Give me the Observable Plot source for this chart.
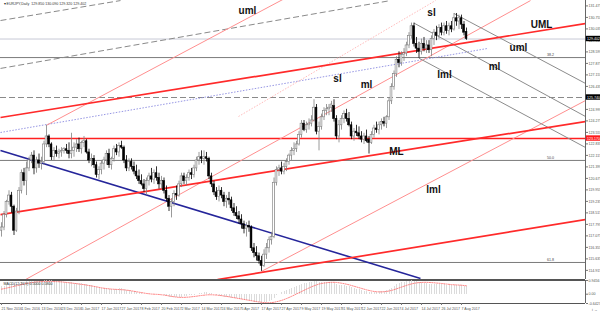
<!DOCTYPE html>
<html><head><meta charset="utf-8">
<script src="https://cdn.jsdelivr.net/npm/d3@7"></script>
<script src="https://cdn.jsdelivr.net/npm/@observablehq/plot@0.6"></script>
<style>
body{margin:0;background:#fff}
#wrap{position:relative;width:600px;height:313px;overflow:hidden;background:#fff}
#wrap svg{position:absolute;left:0}
</style></head><body><div id="wrap"></div>
<script>
// ---------- data ----------
const symbol = "EURJPY,Daily";
const dateLabels = ["21 Nov 2016","1 Dec 2016","13 Dec 2016","23 Dec 2016","5 Jan 2017","17 Jan 2017","27 Jan 2017","8 Feb 2017","20 Feb 2017","2 Mar 2017","14 Mar 2017","24 Mar 2017","5 Apr 2017","17 Apr 2017","27 Apr 2017","9 May 2017","19 May 2017","31 May 2017","12 Jun 2017","22 Jun 2017","4 Jul 2017","14 Jul 2017","26 Jul 2017","7 Aug 2017"];
const barsPerLabel = 8;
const open = [117.4,117.6,118.4,119.2,119.6,118.9,117.4,118.6,119.9,121.0,120.5,121.3,121.8,122.1,121.3,121.8,121.6,121.7,122.8,123.3,122.8,122.0,122.4,122.2,122.3,122.4,122.5,122.4,122.2,122.4,122.6,122.8,122.5,122.9,123.0,122.3,121.8,121.9,121.5,120.9,121.2,121.6,121.8,122.2,121.5,121.9,122.5,122.3,122.7,122.6,121.8,121.3,121.7,121.4,121.1,120.8,120.5,120.3,120.0,120.5,120.8,120.6,121.0,120.7,120.3,120.5,119.9,119.4,118.9,119.2,119.7,119.6,120.3,120.8,120.5,120.7,121.0,120.9,121.3,121.8,122.0,121.9,122.0,121.9,120.8,120.3,119.8,119.5,119.9,119.6,119.2,119.4,119.3,118.8,118.5,118.3,118.1,117.8,117.5,117.7,117.6,116.3,116.0,115.8,115.5,115.2,115.9,116.3,116.8,117.0,120.4,121.2,121.3,121.1,121.4,121.7,122.1,122.4,122.5,122.8,123.4,124.1,123.7,124.0,124.1,124.3,125.1,123.6,123.9,124.5,124.9,125.0,125.1,125.2,124.4,123.3,124.0,124.4,124.7,124.4,124.0,123.3,123.6,123.5,123.3,123.1,123.3,123.1,122.9,123.4,123.8,123.7,124.0,124.2,124.1,124.5,125.5,126.4,127.2,128.1,127.9,128.4,128.5,129.0,129.6,130.2,129.1,128.8,128.6,129.1,128.8,129.0,128.7,129.4,129.8,129.6,130.1,129.8,130.2,129.9,130.2,130.0,130.7,130.5,130.7,130.3,129.85];
const high = [117.9,118.6,119.3,119.9,119.8,119.0,118.8,120.1,121.2,121.3,121.7,122.0,122.3,122.4,122.0,122.2,122.0,123.0,124.0,123.4,122.9,122.6,122.7,122.5,122.6,122.6,122.8,122.9,123.5,122.9,123.1,123.2,123.0,123.3,123.1,122.5,122.2,122.1,121.7,121.4,121.8,122.0,122.4,122.5,122.0,122.7,122.8,122.9,123.0,122.7,122.1,121.9,121.9,121.7,121.5,121.2,120.9,120.6,120.7,121.0,121.3,121.2,121.4,121.0,120.8,120.7,120.2,119.6,119.4,119.9,120.2,120.5,121.0,121.0,120.9,121.2,121.3,121.5,122.0,122.3,122.4,122.4,122.3,122.0,121.0,120.5,120.1,120.2,120.1,119.8,119.6,119.8,119.5,119.1,118.9,118.6,118.4,118.0,117.9,118.0,117.7,116.6,116.4,116.0,115.8,116.2,116.6,117.0,117.3,120.7,121.4,121.5,121.7,121.6,121.9,122.2,122.6,122.9,123.0,123.6,124.3,124.3,124.2,124.4,124.6,125.6,125.3,124.2,124.7,125.1,125.3,125.3,125.5,125.6,124.6,124.3,124.6,124.9,125.0,124.8,124.2,123.8,124.0,123.9,123.6,123.5,123.7,123.3,123.6,124.0,124.2,124.2,124.4,124.5,124.6,125.7,126.6,127.4,128.3,128.6,128.6,128.8,129.2,129.8,130.4,130.4,129.5,129.2,129.4,129.5,129.3,129.3,129.6,130.0,130.2,130.3,130.4,130.4,130.5,130.4,130.5,131.0,131.0,130.9,130.9,130.5,130.09];
const low = [117.0,117.4,118.2,119.0,118.5,117.1,117.3,118.4,119.7,120.2,119.6,121.1,121.6,120.9,121.0,121.3,121.2,121.5,122.6,122.6,121.8,121.8,122.0,121.9,122.0,122.2,122.2,121.9,121.9,122.0,122.3,122.3,122.2,122.6,122.2,121.6,121.4,121.3,120.7,120.6,120.9,121.2,121.5,121.3,121.2,121.7,122.1,122.0,122.5,121.6,121.1,121.1,121.2,120.9,120.6,120.3,120.2,119.8,119.6,120.2,120.4,120.3,120.5,120.0,120.0,119.7,119.2,118.6,118.2,118.9,119.3,119.5,120.1,120.3,120.2,120.5,120.6,120.7,121.1,121.5,121.6,121.5,121.7,120.6,120.1,119.6,119.3,119.2,119.4,118.9,118.8,119.0,118.6,118.3,118.1,117.8,117.5,117.2,117.0,117.3,116.1,115.7,115.5,115.3,114.85,115.1,115.6,116.0,116.5,116.9,120.2,120.8,120.9,120.9,121.1,121.5,121.8,122.1,122.3,122.7,123.2,123.6,123.5,123.7,123.9,124.2,123.4,122.4,123.7,124.3,124.6,124.6,124.8,124.2,123.1,122.9,123.7,124.1,124.2,123.9,123.1,123.0,123.3,123.1,122.9,122.8,122.9,122.2,122.8,123.2,123.5,123.4,123.7,123.9,123.8,124.3,125.3,126.2,127.0,127.6,127.7,128.0,128.3,128.8,129.4,128.9,128.5,128.2,128.4,128.6,128.5,128.5,128.3,129.0,129.3,129.4,129.6,129.6,129.7,129.6,129.8,129.9,130.2,130.0,130.0,129.6,129.32];
const close = [117.6,118.4,119.2,119.6,118.9,117.4,118.6,119.9,121.0,120.5,121.3,121.8,122.1,121.3,121.8,121.6,121.7,122.8,123.3,122.8,122.0,122.4,122.2,122.3,122.4,122.5,122.4,122.2,122.4,122.6,122.8,122.5,122.9,123.0,122.3,121.8,121.9,121.5,120.9,121.2,121.6,121.8,122.2,121.5,121.9,122.5,122.3,122.7,122.6,121.8,121.3,121.7,121.4,121.1,120.8,120.5,120.3,120.0,120.5,120.8,120.6,121.0,120.7,120.3,120.5,119.9,119.4,118.9,119.2,119.7,119.6,120.3,120.8,120.5,120.7,121.0,120.9,121.3,121.8,122.0,121.9,122.0,121.9,120.8,120.3,119.8,119.5,119.9,119.6,119.2,119.4,119.3,118.8,118.5,118.3,118.1,117.8,117.5,117.7,117.6,116.3,116.0,115.8,115.5,115.2,115.9,116.3,116.8,117.0,120.4,121.2,121.3,121.1,121.4,121.7,122.1,122.4,122.5,122.8,123.4,124.1,123.7,124.0,124.1,124.3,125.1,123.6,123.9,124.5,124.9,125.0,125.1,125.3,124.4,123.3,124.0,124.4,124.7,124.4,124.0,123.3,123.6,123.5,123.3,123.1,123.3,123.0,122.9,123.4,123.8,123.7,124.0,124.2,124.1,124.5,125.5,126.4,127.2,128.1,127.9,128.4,128.5,129.0,129.6,130.2,129.1,128.8,128.6,129.1,128.8,129.0,128.7,129.4,129.8,129.6,130.1,129.8,130.2,129.9,130.2,130.0,130.7,130.5,130.7,130.3,129.8,129.402];
const macdMain = [0.50,0.55,0.62,0.68,0.72,0.68,0.68,0.72,0.80,0.84,0.86,0.88,0.90,0.90,0.90,0.89,0.89,0.92,0.9456,0.94,0.92,0.90,0.88,0.86,0.85,0.83,0.81,0.79,0.78,0.76,0.74,0.72,0.71,0.70,0.66,0.61,0.57,0.52,0.45,0.41,0.38,0.36,0.36,0.33,0.32,0.34,0.34,0.36,0.36,0.32,0.27,0.25,0.22,0.18,0.13,0.08,0.04,0.00,-0.01,0.00,0.00,0.01,0.00,-0.03,-0.04,-0.08,-0.14,-0.22,-0.26,-0.26,-0.26,-0.24,-0.20,-0.18,-0.16,-0.12,-0.10,-0.06,0.00,0.05,0.08,0.11,0.12,0.06,0.02,-0.04,-0.10,-0.13,-0.16,-0.20,-0.22,-0.24,-0.27,-0.30,-0.33,-0.36,-0.39,-0.42,-0.44,-0.46,-0.50,-0.54,-0.57,-0.60,-0.6427,-0.60,-0.57,-0.52,-0.47,-0.30,-0.12,0.00,0.10,0.18,0.26,0.34,0.42,0.48,0.54,0.60,0.68,0.72,0.76,0.80,0.84,0.90,0.86,0.82,0.80,0.80,0.80,0.80,0.80,0.76,0.68,0.62,0.60,0.58,0.55,0.50,0.43,0.38,0.34,0.30,0.25,0.22,0.18,0.13,0.12,0.13,0.14,0.16,0.18,0.20,0.24,0.30,0.40,0.52,0.64,0.72,0.78,0.82,0.86,0.89,0.92,0.90,0.86,0.82,0.80,0.77,0.74,0.70,0.68,0.68,0.66,0.66,0.64,0.64,0.62,0.62,0.60,0.62,0.62,0.60,0.58,0.54,0.50];
const macdSignal = [0.35,0.38,0.42,0.46,0.50,0.54,0.58,0.62,0.66,0.70,0.74,0.77,0.80,0.83,0.85,0.86,0.87,0.88,0.88,0.88,0.88,0.87,0.87,0.86,0.85,0.83,0.81,0.79,0.77,0.75,0.73,0.70,0.68,0.66,0.63,0.60,0.57,0.54,0.51,0.47,0.44,0.41,0.39,0.37,0.35,0.34,0.33,0.32,0.31,0.30,0.28,0.26,0.23,0.20,0.17,0.14,0.11,0.08,0.05,0.03,0.01,0.00,-0.01,-0.02,-0.04,-0.06,-0.09,-0.12,-0.15,-0.18,-0.20,-0.22,-0.22,-0.22,-0.21,-0.20,-0.18,-0.16,-0.14,-0.11,-0.09,-0.07,-0.05,-0.04,-0.04,-0.05,-0.06,-0.08,-0.10,-0.13,-0.15,-0.18,-0.21,-0.24,-0.27,-0.30,-0.33,-0.36,-0.39,-0.42,-0.45,-0.48,-0.51,-0.54,-0.56,-0.58,-0.59,-0.59,-0.58,-0.56,-0.52,-0.48,-0.43,-0.37,-0.30,-0.23,-0.15,-0.07,0.02,0.10,0.18,0.27,0.35,0.43,0.51,0.58,0.64,0.70,0.74,0.77,0.79,0.81,0.82,0.82,0.81,0.79,0.76,0.73,0.69,0.65,0.60,0.55,0.50,0.45,0.40,0.35,0.30,0.26,0.22,0.19,0.17,0.16,0.16,0.17,0.19,0.22,0.26,0.31,0.37,0.43,0.49,0.55,0.61,0.66,0.71,0.75,0.78,0.80,0.81,0.82,0.82,0.81,0.80,0.79,0.77,0.76,0.74,0.72,0.70,0.68,0.66,0.65,0.64,0.63,0.62,0.60,0.58];
const macdRange = [-0.6427, 0.9456];
const priceTicks = [131.475,130.755,130.035,129.315,128.595,127.875,127.155,126.435,125.715,124.995,124.275,123.555,122.835,122.115,121.395,120.675,119.955,119.235,118.515,117.795,117.075,116.355,115.635,114.915];
const fibLevels = [128.24, 121.80, 115.41];
const fibNames = ["38.2", "50.0", "61.8"];
const redLevel = 123.17;
const dashedLevel = 125.74;
// trend lines: [bar1, price1, bar2, price2]
const thickRedLines = [[-0.4,124.49,233.6,130.37],[-0.4,118.41,233.6,124.24],[86.4,114.34,233.6,118.1]];
const lightRedLines = [[18,124.0,120,132.5],[9.6,114.34,211.6,131.81],[104,114.85,233.6,125.55]];
const dottedRedLines = [[94.8,124.55,173.6,131.81]];
const blueLine = [[-0.4,122.42,167.6,114.41]];
const blueDottedLine = [[-0.4,123.55,194.4,128.81]];
const grayLines = [[181,131.0,233.6,126.62],[165,130.4,233.6,124.55],[167,128.2,233.6,122.61]];
const dashedGrayLines = [[-0.4,130.56,47.6,131.81],[-0.4,127.56,155.6,131.81]];
const labels = [
  {t:"uml", b:98.4, p:131.2}, {t:"sl", b:172, p:131.06}, {t:"UML", b:216, p:130.31},
  {t:"uml", b:206.8, p:128.87}, {t:"ml", b:197.2, p:127.68}, {t:"lml", b:177.2, p:127.18},
  {t:"sl", b:134.4, p:126.93}, {t:"ml", b:146, p:126.55}, {t:"ML", b:158, p:122.36},
  {t:"lml", b:172.8, p:119.98}
];

// ---------- build ----------
const X_DOMAIN = [-0.4, 233.6];
const Y_DOMAIN = [114.344, 131.814];
const N = close.length;
const last = N - 1;
const bars = d3.range(N).map(i => ({i, o: open[i], h: high[i], l: low[i], c: close[i], up: close[i] >= open[i]}));
const seg = arr => arr.map(([x1, y1, x2, y2]) => ({x1, y1, x2, y2}));
const L = {x1: "x1", y1: "y1", x2: "x2", y2: "y2", clip: true};
const FONT = "Liberation Sans, Arial, sans-serif";
const tiny = 3.6;
const boxes = [
  {v: close[last], fill: "#000"},
  {v: dashedLevel, fill: "#000"},
  {v: redLevel, fill: "#ff1a1a"}
];
const xr = X_DOMAIN[1];

const main = Plot.plot({
  width: 600, height: 279, marginTop: 0, marginBottom: 0, marginLeft: 0, marginRight: 15,
  x: {domain: X_DOMAIN, axis: null},
  y: {domain: Y_DOMAIN, axis: null},
  style: {background: "transparent", fontFamily: FONT, overflow: "visible"},
  marks: [
    Plot.ruleY([close[last]], {stroke: "#c8cad6", strokeWidth: 1}),
    Plot.ruleY(fibLevels, {stroke: "#7b7b7b", strokeWidth: 1}),
    Plot.ruleY([dashedLevel], {stroke: "#8a8a8a", strokeWidth: 1, strokeDasharray: "6,3"}),
    Plot.ruleY([redLevel], {stroke: "#ff2020", strokeWidth: 1.4}),
    Plot.text(fibLevels, {x: 221, y: d => d, text: (d, i) => fibNames[i], dy: -2.5, textAnchor: "end", fontSize: tiny, fill: "#444"}),
    Plot.link(seg(dashedGrayLines), {...L, stroke: "#8a8a8a", strokeWidth: 1, strokeDasharray: "6,3"}),
    Plot.link(seg(blueDottedLine), {...L, stroke: "#8a8ae0", strokeWidth: 0.9, strokeDasharray: "1.5,1.5"}),
    Plot.link(seg(dottedRedLines), {...L, stroke: "#ffb3b3", strokeWidth: 0.9, strokeDasharray: "1.5,1.5"}),
    Plot.link(seg(lightRedLines), {...L, stroke: "#ff8f8f", strokeWidth: 1}),
    Plot.link(seg(grayLines), {...L, stroke: "#8c8c8c", strokeWidth: 1}),
    Plot.link(seg(blueLine), {...L, stroke: "#25259a", strokeWidth: 1.6}),
    Plot.link(seg(thickRedLines), {...L, stroke: "#ff2a2a", strokeWidth: 1.7}),
    Plot.ruleX(bars, {x: "i", y1: "l", y2: "h", stroke: d => d.up ? "#808080" : "#000000", strokeWidth: 0.8}),
    Plot.rect(bars, {x1: d => d.i - 0.36, x2: d => d.i + 0.36, y1: "o", y2: "c",
      fill: d => d.up ? "#ffffff" : "#000000", stroke: d => d.up ? "#7a7a7a" : "#000000", strokeWidth: 0.6}),
    Plot.text(labels, {x: "b", y: "p", text: "t", fontSize: 10, fontWeight: "bold", fill: "#111", fontFamily: FONT}),
    Plot.text([`\u25BE ${symbol}  ${open[last].toFixed(3)} ${high[last].toFixed(3)} ${low[last].toFixed(3)} ${close[last].toFixed(3)}`],
      {frameAnchor: "top-left", dx: 3, dy: 1.5, fontSize: tiny, fill: "#333", textAnchor: "start", lineAnchor: "top"}),
    Plot.ruleY([Y_DOMAIN[0]], {stroke: "#555", strokeWidth: 1}),
    Plot.ruleX([xr], {stroke: "#666", strokeWidth: 1}),
    Plot.axisY(priceTicks, {anchor: "right", tickSize: 2, tickPadding: 1, fontSize: tiny, fill: "#555", stroke: "#777",
      tickFormat: d => d.toFixed(3)}),
    Plot.rect(boxes, {x1: xr + 0.3, x2: xr + 6.2, y1: d => d.v - 0.17, y2: d => d.v + 0.17, fill: "fill"}),
    Plot.text(boxes, {x: xr + 0.6, y: "v", text: d => d.v.toFixed(3), fill: "#fff", fontSize: tiny, textAnchor: "start"})
  ]
});
main.style.top = "0px";

const macd = d3.range(N).map(i => ({i, m: macdMain[i], s: macdSignal[i]}));
const tickBars = dateLabels.map((_, k) => k * barsPerLabel);
const sub = Plot.plot({
  width: 600, height: 34, marginTop: 1, marginBottom: 10, marginLeft: 0, marginRight: 15,
  x: {domain: X_DOMAIN, axis: null},
  y: {domain: macdRange, axis: null},
  style: {background: "transparent", fontFamily: FONT, overflow: "visible"},
  marks: [
    Plot.ruleY([macdRange[1]], {stroke: "#555", strokeWidth: 1}),
    Plot.ruleX(macd, {x: "i", y1: 0, y2: "m", stroke: "#d2d2d2", strokeWidth: 0.8, shapeRendering: "crispEdges"}),
    Plot.line(macd, {x: "i", y: "s", stroke: "#ff6a6a", strokeWidth: 0.8, strokeDasharray: "1.2,1.2"}),
    Plot.text([`MACD(12,26,9) ${macdMain[last].toFixed(4)} ${macdSignal[last].toFixed(4)}`],
      {frameAnchor: "top-left", dx: 3, dy: 1.5, fontSize: tiny, fill: "#333", textAnchor: "start", lineAnchor: "top"}),
    Plot.ruleY([macdRange[0]], {stroke: "#555", strokeWidth: 1}),
    Plot.ruleX([xr], {stroke: "#666", strokeWidth: 1}),
    Plot.axisY([macdRange[1], 0, macdRange[0]], {anchor: "right", tickSize: 2, tickPadding: 1, fontSize: tiny, fill: "#555", stroke: "#777",
      tickFormat: d => d === 0 ? "0.00" : d.toFixed(4)}),
    Plot.axisX(tickBars, {anchor: "bottom", tickSize: 2, tickPadding: 1.5, fontSize: tiny, fill: "#555", stroke: "#777",
      textAnchor: "start", tickFormat: d => dateLabels[d / barsPerLabel]})
  ]
});
sub.style.top = "279px";

const wrap = document.getElementById("wrap");
wrap.appendChild(main);
wrap.appendChild(sub);
</script></body></html>
